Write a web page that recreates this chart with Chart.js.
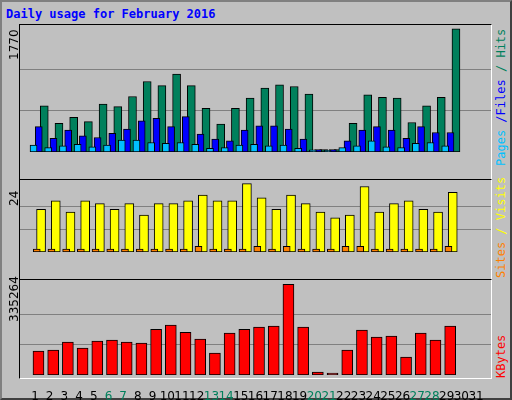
<!DOCTYPE html>
<html>
<head>
<meta charset="utf-8">
<script src="https://cdn.jsdelivr.net/npm/chart.js@4"></script>
<style>
  body { margin: 0; background: #fff; }
  #frame { position: absolute; left: 0; top: 0; width: 508px; height: 396px; background: #C0C0C0; border: 2px solid #808080; border-right-color: #404040; border-bottom-color: #404040; }
  #title { position: absolute; left: 6px; top: 7px; font: bold 12px 'DejaVu Sans Mono', monospace; color: #0000FF; }
  .panel { position: absolute; left: 19px; width: 471px; border: 1px solid #000; border-right-color: #fff; border-bottom-color: #fff; }
  canvas { position: absolute; left: 20px; }
  .rot { position: absolute; transform-origin: left top; transform: rotate(-90deg); font: 12px 'DejaVu Sans Mono', monospace; white-space: nowrap; }
  .ymax { font-family: 'DejaVu Sans', sans-serif; color: #000; }
</style>
</head>
<body>
<div id="frame"></div>
<div id="title">Daily usage for February 2016</div>
<div class="panel" style="top:24px;height:154px"></div>
<div class="panel" style="top:179px;height:99px"></div>
<div class="panel" style="top:279px;height:98px"></div>
<canvas id="c1" width="471" height="154" style="top:25px;width:471px;height:154px"></canvas>
<canvas id="c2" width="471" height="99" style="top:180px;width:471px;height:99px"></canvas>
<canvas id="c3" width="471" height="120" style="top:280px;width:471px;height:120px"></canvas>
<div class="rot ymax" style="left:7px;top:60px">1770</div>
<div class="rot ymax" style="left:7px;top:206px">24</div>
<div class="rot ymax" style="left:7px;top:322px">335264</div>
<div class="rot" style="left:494px;top:166px"><span style="color:#00C0FF">Pages</span> <span style="color:#0000FF">/Files</span> <span style="color:#00805C">/ Hits</span></div>
<div class="rot" style="left:494px;top:278px"><span style="color:#FF8000">Sites</span> <span style="color:#FFFF00">/ Visits</span></div>
<div class="rot" style="left:494px;top:378px"><span style="color:#FF0000">KBytes</span></div>
<script>
const days = [1,2,3,4,5,6,7,8,9,10,11,12,13,14,15,16,17,18,19,20,21,22,23,24,25,26,27,28,29]
const dayLabels = [1,2,3,4,5,6,7,8,9,10,11,12,13,14,15,16,17,18,19,20,21,22,23,24,25,26,27,28,29,30,31]
const weekendDays = [6,7,13,14,20,21,27,28]

const hits = [665,412,497,436,689,653,797,1013,953,1121,953,629,400,629,773,917,965,941,833,36,36,412,821,785,773,424,665,785,1770]
const files = [364,196,316,232,208,268,328,448,485,364,509,256,184,160,316,376,376,328,184,36,36,160,316,364,316,196,364,280,280]
const pages = [100,64,88,112,76,100,172,172,136,124,136,112,52,64,100,112,88,100,52,30,28,64,88,160,76,64,124,136,88]

const visits = [15,18,14,18,17,15,17,13,17,17,18,20,18,18,24,19,15,20,17,14,12,13,23,14,17,18,15,14,21]
const sites = [1,1,1,1,1,1,1,1,1,1,1,2,1,1,1,2,1,2,1,1,1,2,2,1,1,1,1,1,2]

const kbytes = [88400,92000,121600,99500,125000,129000,121600,118000,169000,184000,158000,133000,81000,155000,169000,177000,180500,335264,177000,11000,7400,92000,166000,140000,144000,66000,155000,129000,180500]

const maxHits = 1770
const maxVisits = 24
const maxKbytes = 335264

function points(values, shift) {
  return values.map((v, i) => ({ x: days[i] + shift, y: v }))
}

function barSet(values, shift, color, width, order) {
  return {
    data: points(values, shift),
    backgroundColor: color,
    borderColor: '#000',
    borderWidth: 1,
    borderSkipped: false,
    barThickness: width,
    order: order,
  }
}

// headroom: the labelled max sits a few px below the panel top
function makeChart(id, datasets, max, headroom, showX) {
  new Chart(id, {
    type: 'bar',
    data: { datasets: datasets },
    options: {
      animation: false,
      responsive: false,
      plugins: { legend: { display: false }, tooltip: { enabled: false } },
      layout: { padding: { bottom: showX ? 0 : 2 } },
      scales: {
        x: {
          type: 'linear',
          min: 0.5,
          max: 31.5,
          display: showX,
          grid: { display: false },
          border: { display: false },
          afterBuildTicks: (s) => { s.ticks = dayLabels.map((d) => ({ value: d })) },
          afterFit: (s) => { s.height = 25 },
          ticks: {
            autoSkip: false,
            maxRotation: 0,
            padding: 7,
            font: { family: 'DejaVu Sans', size: 12 },
            callback: (v) => String(v),
            color: (ctx) => weekendDays.includes(ctx.tick.value) ? '#00805C' : '#000',
          },
        },
        y: {
          min: 0,
          max: max * headroom,
          display: true,
          border: { display: false },
          afterBuildTicks: (s) => { s.ticks = [{ value: max / 3 }, { value: max * 2 / 3 }] },
          grid: { color: '#808080', drawTicks: false, lineWidth: 1 },
          ticks: { display: false },
        },
      },
    },
  })
}

makeChart('c1', [
  barSet(hits, 0.09, '#00805C', 8, 3),
  barSet(files, 0.26, '#0000FF', 7, 2),
  barSet(pages, 0.38, '#00C0FF', 7, 1),
], maxHits, 1.031, false)

makeChart('c2', [
  barSet(visits, 0.11, '#FFFF00', 9, 2),
  barSet(sites, 0.36, '#FF8000', 7, 1),
], maxVisits, 1.054, false)

makeChart('c3', [
  barSet(kbytes, 0.24, '#FF0000', 11, 1),
], maxKbytes, 1.047, true)
</script>
</body>
</html>
